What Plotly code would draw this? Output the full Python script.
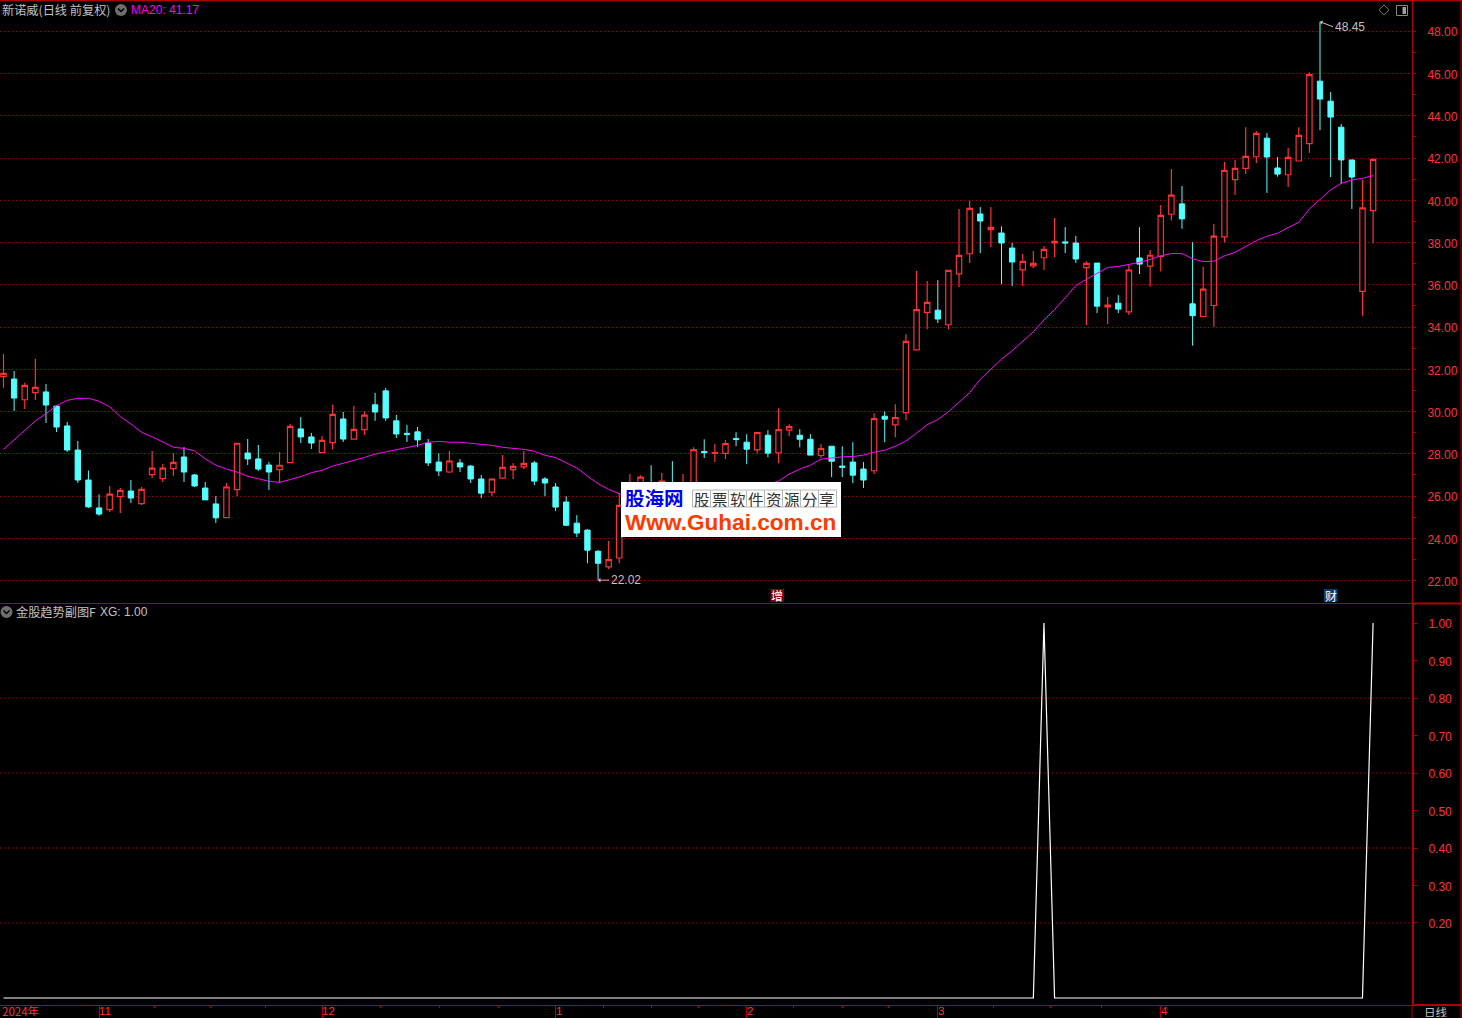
import plotly.graph_objects as go

W, H = 1462, 1018

OPEN = [31.65,31.54,30.56,30.90,30.93,30.26,29.32,28.18,26.76,25.44,
        25.36,25.97,26.24,25.64,27.02,26.83,27.30,27.85,27.00,26.38,
        25.63,24.98,26.31,28.04,27.76,27.47,27.25,27.58,29.18,28.80,
        28.06,28.53,29.65,28.70,29.15,30.32,30.98,29.56,28.97,29.04,
        28.51,27.61,27.14,27.57,27.42,26.81,26.19,26.85,27.25,27.38,
        27.57,26.81,26.43,25.72,24.72,24.39,23.39,22.65,23.07,25.70,
        25.90,26.60,26.20,26.60,26.00,26.30,28.11,28.02,28.02,28.72,
        28.55,28.19,28.88,28.05,29.12,28.88,28.69,27.92,28.36,27.42,
        27.61,27.28,27.20,29.78,29.37,29.95,32.92,34.68,34.80,34.11,
        36.52,37.47,39.35,38.61,38.45,37.74,36.71,36.90,37.28,37.98,
        38.03,37.98,36.81,37.03,34.96,35.13,34.72,37.27,36.88,37.35,
        39.34,39.83,35.10,34.50,35.02,38.27,40.98,41.51,42.06,42.94,
        41.53,41.21,41.86,42.68,45.64,44.69,43.46,41.91,35.69,39.51]
HIGH = [32.73,31.92,31.37,32.49,31.31,30.31,29.51,28.61,27.21,26.08,
        26.48,26.38,26.76,26.43,28.14,27.52,28.04,28.32,27.05,26.67,
        26.00,26.62,28.50,28.70,28.42,27.62,28.09,29.41,29.74,28.99,
        28.85,30.32,29.98,30.27,30.03,30.89,31.12,29.84,29.37,29.27,
        28.70,28.03,28.13,27.75,27.47,27.00,26.85,27.94,27.57,28.13,
        27.66,26.90,26.62,26.00,25.10,24.43,23.44,23.87,26.13,27.04,
        26.99,27.46,27.09,27.65,27.04,28.31,28.69,28.46,28.65,29.02,
        28.93,29.02,29.12,30.16,29.40,29.17,28.93,28.46,28.36,28.36,
        28.55,27.61,29.92,30.02,30.35,33.66,36.65,36.18,36.22,36.68,
        39.59,39.97,39.68,39.68,38.77,37.98,37.46,37.60,37.84,39.16,
        38.73,38.31,37.12,37.03,35.42,35.51,36.94,38.73,37.65,39.78,
        41.48,40.68,38.02,36.85,38.88,41.81,41.91,43.46,43.28,43.18,
        42.05,42.47,43.46,46.06,48.45,45.12,43.61,41.91,40.96,41.94]
LOW = [31.13,30.03,30.12,30.55,29.46,29.03,28.09,26.62,25.44,25.06,
       25.25,25.20,25.67,25.58,26.86,26.67,26.95,26.67,26.43,25.82,
       24.73,24.98,26.01,27.47,27.19,26.29,26.62,27.58,28.51,28.23,
       28.06,28.20,28.56,28.70,28.89,29.56,29.56,28.75,28.56,28.32,
       27.42,26.95,27.09,27.14,26.62,25.90,26.00,26.85,26.81,27.28,
       26.52,26.00,25.29,24.58,24.06,22.82,22.02,22.54,22.82,25.40,
       25.60,25.70,26.00,25.90,25.80,26.20,27.80,27.61,27.75,28.36,
       27.51,28.02,27.84,27.56,28.83,28.31,27.94,27.80,26.90,26.90,
       26.61,26.38,27.04,28.55,28.79,29.59,32.92,33.90,34.19,33.90,
       35.89,37.03,37.50,37.79,36.03,35.94,35.94,36.79,36.70,37.31,
       37.50,37.03,34.09,34.66,34.14,34.66,34.57,36.51,35.92,36.63,
       39.04,38.65,33.12,34.50,34.02,38.02,40.25,41.24,41.76,40.35,
       41.12,40.63,41.86,42.24,43.32,41.10,40.77,39.59,34.54,37.95]
CLOSE = [31.81,30.64,31.24,31.15,30.31,29.27,28.18,26.76,25.49,25.15,
         26.09,26.27,25.91,26.32,27.32,27.32,27.60,27.14,26.48,25.82,
         24.97,26.43,28.50,27.76,27.28,27.14,27.46,29.30,28.80,28.51,
         28.64,29.87,28.70,29.16,29.83,29.98,29.70,28.94,28.91,28.66,
         27.57,27.19,27.66,27.38,26.81,26.14,26.81,27.36,27.41,27.55,
         26.71,26.62,25.48,24.62,24.25,23.44,22.82,22.99,25.56,26.50,
         26.90,26.00,26.71,26.10,26.50,28.20,28.05,28.06,28.49,28.68,
         28.22,29.01,28.03,29.15,29.29,28.69,27.94,28.25,27.65,27.37,
         26.99,26.76,29.67,29.64,29.72,33.32,34.83,35.17,34.38,36.68,
         37.39,39.62,39.02,38.72,37.98,37.08,37.11,37.01,37.68,38.06,
         37.98,37.22,37.01,34.99,35.04,34.85,36.70,36.98,37.40,39.29,
         40.24,39.12,34.54,35.80,38.30,41.42,41.51,42.08,43.17,42.05,
         41.24,42.03,43.07,45.95,44.79,43.94,41.91,41.10,39.64,41.94]
MA20 = [28.21,28.66,29.11,29.56,29.90,30.28,30.53,30.63,30.63,30.49,
        30.23,29.76,29.41,29.02,28.81,28.55,28.31,28.26,28.14,27.76,
        27.46,27.28,27.14,26.94,26.83,26.70,26.65,26.79,26.92,27.11,
        27.22,27.42,27.55,27.69,27.83,27.99,28.09,28.18,28.28,28.40,
        28.55,28.59,28.55,28.55,28.50,28.45,28.40,28.31,28.26,28.21,
        28.12,27.93,27.82,27.58,27.33,26.95,26.58,26.32,26.10,25.90,
        25.80,25.75,25.70,25.70,25.75,25.85,25.90,26.00,26.10,26.20,
        26.30,26.40,26.55,26.71,27.04,27.28,27.46,27.75,27.80,27.86,
        27.87,27.94,28.08,28.17,28.36,28.61,28.98,29.38,29.62,30.00,
        30.44,30.90,31.53,32.00,32.48,32.88,33.33,33.78,34.34,34.83,
        35.39,35.96,36.26,36.54,36.82,36.87,36.95,37.06,37.20,37.37,
        37.48,37.48,37.23,37.10,37.12,37.37,37.54,37.80,38.09,38.30,
        38.44,38.71,38.96,39.59,40.02,40.49,40.80,40.96,41.04,41.17]
XG_UP_AT = [98, 129]
XG = [1.0 if i in XG_UP_AT else 0.0 for i in range(len(CLOSE))]
INDEX = list(range(len(CLOSE)))

PRICE_TICKS = [22, 24, 26, 28, 30, 32, 34, 36, 38, 40, 42, 44, 46, 48]
PRICE_MINOR = [23, 25, 27, 29, 31, 33, 35, 37, 39, 41, 43, 45, 47]
XG_TICKS = [0.2, 0.3, 0.4, 0.5, 0.6, 0.7, 0.8, 0.9, 1.0]
XG_GRID = [0.2, 0.4, 0.6, 0.8]
MONTH_AT = [9, 30, 52, 70, 88, 109]
MONTH_LABELS = ["11", "12", "1", "2", "3", "4"]
WEEK_AT = [14.2, 19.5, 24.7, 35.5, 41.05, 46.6, 56.5, 61, 65.5, 74.4, 79, 83.4, 93.2, 98.6, 103.4]

RED = "#ff3232"
CYAN = "#54ffff"
AXIS = "#b00000"
GRID = "#a80000"
GREY = "#c0c0c0"
MAGENTA = "#ff00ff"
CJK = "Noto Sans CJK SC, Liberation Sans, Arial"
LAT = "Liberation Sans, Arial"

fig = go.Figure()
fig.add_trace(go.Candlestick(
    x=INDEX, open=OPEN, high=HIGH, low=LOW, close=CLOSE, xaxis="x", yaxis="y",
    increasing=dict(line=dict(color=RED, width=1.2), fillcolor="#000000"),
    decreasing=dict(line=dict(color=CYAN, width=1), fillcolor=CYAN),
    whiskerwidth=0, hoverinfo="skip", showlegend=False))
fig.add_trace(go.Scatter(x=INDEX, y=MA20, mode="lines", xaxis="x", yaxis="y",
                         line=dict(color=MAGENTA, width=1), hoverinfo="skip", showlegend=False))
fig.add_trace(go.Scatter(x=INDEX, y=XG, mode="lines", xaxis="x2", yaxis="y2",
                         line=dict(color="#ffffff", width=1.2), hoverinfo="skip", showlegend=False))

px_x = lambda p: p / W
px_y = lambda p: 1 - p / H
X0, DX = 3.5, 10.617
x_range = [(0 - X0) / DX, (1412 - X0) / DX]

fig.update_layout(
    width=W, height=H, autosize=False, margin=dict(l=0, r=0, t=0, b=0),
    paper_bgcolor="#000000", plot_bgcolor="#000000", showlegend=False, boxgap=0.28,
    xaxis=dict(domain=[0, 1412 / W], range=x_range, showgrid=False, showticklabels=False,
               ticks="", zeroline=False, rangeslider=dict(visible=False), anchor="y", showline=False),
    yaxis=dict(domain=[px_y(603), 1], range=[20.94, 49.48], side="right", anchor="x",
               tickvals=PRICE_TICKS, ticktext=[f"{v:.2f}" for v in PRICE_TICKS],
               tickfont=dict(family=LAT, size=12, color=RED), ticks="outside", ticklen=3, tickcolor=AXIS,
               ticklabelstandoff=9, ticklabelshift=1, showline=True, linecolor=AXIS, linewidth=1,
               showgrid=True, gridcolor=GRID, griddash="1px,3px", gridwidth=1, zeroline=False,
               minor=dict(tickvals=PRICE_MINOR, ticks="outside", ticklen=3, tickcolor=AXIS, showgrid=False)),
    xaxis2=dict(domain=[0, 1412 / W], range=x_range, showgrid=False, showticklabels=False, zeroline=False,
                anchor="y2", ticks="outside", ticklen=13, tickcolor=AXIS, tickvals=MONTH_AT,
                showline=True, linecolor=AXIS, linewidth=1,
                minor=dict(tickvals=WEEK_AT, ticks="outside", ticklen=2, tickcolor=AXIS)),
    yaxis2=dict(domain=[px_y(1005), px_y(604)], range=[-0.0187, 1.0507], side="right", anchor="x2",
                tickvals=XG_TICKS, ticktext=[f"{v:.2f}" for v in XG_TICKS],
                tickfont=dict(family=LAT, size=12, color=RED), ticks="outside", ticklen=3, tickcolor=AXIS,
                ticklabelstandoff=9, ticklabelshift=1, showline=True, linecolor=AXIS, linewidth=2,
                showgrid=False, zeroline=False),
)

shapes = []
for v in XG_GRID:
    shapes.append(dict(type="line", xref="paper", yref="y2", x0=0, x1=1412 / W, y0=v, y1=v, layer="below",
                       line=dict(color=GRID, width=1, dash="1px,3px")))
def pline(x0, y0, x1, y1, color=AXIS, width=1):
    shapes.append(dict(type="line", xref="paper", yref="paper", x0=px_x(x0), x1=px_x(x1),
                       y0=px_y(y0), y1=px_y(y1), line=dict(color=color, width=width)))
def prect(x0, y0, x1, y1, fill, line=None, width=0):
    shapes.append(dict(type="rect", xref="paper", yref="paper", x0=px_x(x0), x1=px_x(x1), y0=px_y(y0), y1=px_y(y1),
                       fillcolor=fill, line=dict(color=line or fill, width=width)))
pline(0, 0.5, W, 0.5, width=1.5)
pline(0, 603.5, 1412, 603.5)
pline(1412, 603.5, W, 603.5, width=2)
pline(1412, 1005, W, 1005, width=2)
pline(1412, 1005, 1412, H)
pline(1461, 0, 1461, H)

for cy, cx in [(10, 121), (612, 6.5)]:
    shapes.append(dict(type="circle", xref="paper", yref="paper", x0=px_x(cx - 6), x1=px_x(cx + 6),
                       y0=px_y(cy - 6), y1=px_y(cy + 6), fillcolor="#6e6e6e", line=dict(width=0)))
    shapes.append(dict(type="path", xref="paper", yref="paper",
                       path=f"M{px_x(cx-3)},{px_y(cy-1.5)} L{px_x(cx)},{px_y(cy+1.5)} L{px_x(cx+3)},{px_y(cy-1.5)}",
                       line=dict(color="#000000", width=1.5)))
shapes.append(dict(type="path", xref="paper", yref="paper",
                   path=f"M{px_x(1384)},{px_y(5)} L{px_x(1389)},{px_y(10)} L{px_x(1384)},{px_y(15)} L{px_x(1379)},{px_y(10)} Z",
                   line=dict(color="#707070", width=1)))
prect(1396.5, 5.5, 1407.5, 15.5, "#000000", "#8a8a8a", 1)
prect(1402.5, 7, 1406, 14, "#a0a0a0")

prect(770.5, 589, 784, 602, "#8b0000")
prect(1324, 589, 1337.5, 602, "#0a3d73")

prect(621, 482, 841, 537, "#ffffff")
LOGO_CELLS = ["股", "票", "软", "件", "资", "源", "分", "享"]
for n in range(len(LOGO_CELLS)):
    prect(692.5 + 18 * n, 490, 710.5 + 18 * n, 507, "#ffffff", "#b8b8b8", 1)
fig.update_layout(shapes=shapes)

def note(x, y, text, color=GREY, size=12, family=CJK, xanchor="left", bold=False, box=None):
    fig.add_annotation(xref="paper", yref="paper", x=px_x(x), y=px_y(y), text=f"<b>{text}</b>" if bold else text,
                       showarrow=False, xanchor=xanchor, yanchor="middle", align="left", height=box,
                       font=dict(color=color, size=size, family=family), borderpad=0, borderwidth=0)

note(1.5, 10, "新诺威(日线 前复权)", size=12.2)
note(130.5, 10, "MA20: 41.17", color=MAGENTA, family=LAT)
note(15.5, 611.5, "金股趋势副图F", size=12.2)
note(100, 612, "XG: 1.00", family=LAT)
note(2, 1011, "2024年", color=RED, size=11.5, box=10)
note(1424, 1011, "日线", size=11.5, box=11)
note(777.2, 595.5, "增", color="#ffffff", xanchor="center")
note(1330.7, 595.5, "财", color="#ffffff", xanchor="center")
note(625, 497, "股海网", color="#0000ee", size=19.5, bold=True, box=20)
for n, ch in enumerate(LOGO_CELLS):
    note(701.5 + 18 * n, 498.5, ch, color="#333333", size=15.5, family="Noto Sans CJK SC", xanchor="center", box=17)
note(625, 522, "Www.Guhai.com.cn", color="#ff3a00", size=22.6, family=LAT, bold=True, box=22)

for at, label in zip(MONTH_AT, MONTH_LABELS):
    fig.add_annotation(xref="x2", yref="paper", x=at, y=px_y(1011), text=label, showarrow=False, xanchor="left",
                       yanchor="middle", xshift=-2, height=10, font=dict(color=RED, size=11.5, family=LAT))

fig.add_annotation(xref="x", yref="y", x=INDEX[56], y=min(LOW), text="22.02", showarrow=True, axref="pixel", ayref="pixel",
                   ax=11, ay=0, xanchor="left", yanchor="middle", arrowhead=1, arrowsize=0.8, arrowcolor=GREY, arrowwidth=1, standoff=0,
                   font=dict(color=GREY, size=12, family=LAT))
fig.add_annotation(xref="x", yref="y", x=INDEX[124], y=max(HIGH), text="48.45", showarrow=True, axref="pixel", ayref="pixel",
                   ax=13, ay=5, xanchor="left", yanchor="middle", arrowhead=1, arrowsize=0.8, arrowcolor=GREY, arrowwidth=1, standoff=0,
                   font=dict(color=GREY, size=12, family=LAT))

fig.write_html("out.html", config=dict(displayModeBar=False),
               post_script="document.body.style.margin='0';document.body.style.background='#000';document.body.style.overflow='hidden';")
